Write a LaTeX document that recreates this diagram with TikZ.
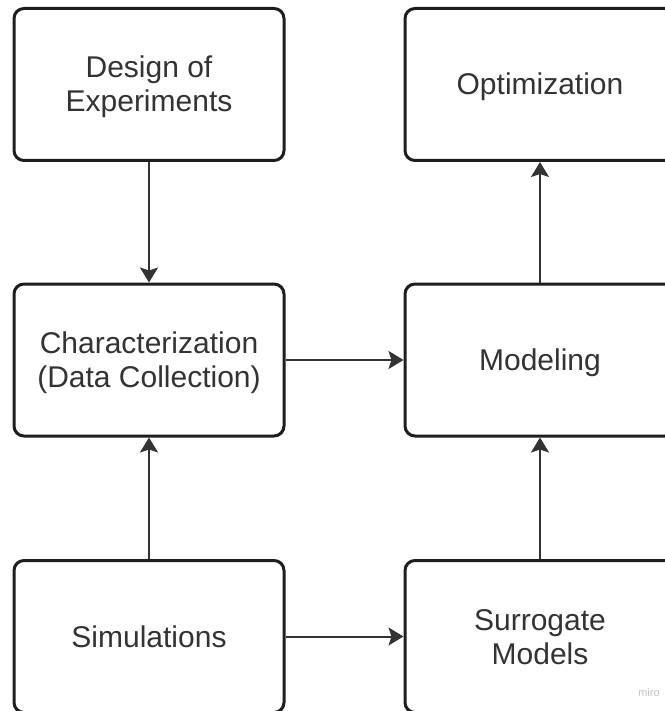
\documentclass[tikz,border=0pt]{standalone}
\usepackage{fontspec}
\setmainfont{Liberation Sans}
\usetikzlibrary{arrows.meta}

\definecolor{boxline}{HTML}{1E1E1E}
\definecolor{arrowline}{HTML}{333333}
\definecolor{labeltext}{HTML}{333333}
\definecolor{marktext}{HTML}{C4C4C4}

% line strut: fixed ascent 27.5pt and descent 6.5pt for every label line
\newcommand{\lnstrut}{\rule[-6.5pt]{0pt}{34pt}}

\begin{document}
\begin{tikzpicture}[x=1pt,y=-1pt,
  stage/.style={draw=boxline, line width=3pt, rounded corners=10pt,
    minimum width=270pt, minimum height=152pt, inner sep=0pt,
    align=center, text=labeltext, fill=white,
    font=\fontsize{30}{34}\selectfont},
  flow/.style={draw=arrowline, line width=2pt,
    -{Stealth[length=15pt,width=18pt,inset=3pt]}}]

  % page frame
  \useasboundingbox (0,0) rectangle (664,711);

  % left column
  \node[stage] (doe)  at (149,84.5)  {Design of\lnstrut\\Experiments\lnstrut};
  \node[stage] (char) at (149,360)   {Characterization\lnstrut\\(Data Collection)\lnstrut};
  \node[stage] (sim)  at (149,636.5) {Simulations\lnstrut};

  % right column
  \node[stage] (opt)  at (540,84.5)  {Optimization\lnstrut};
  \node[stage] (mod)  at (540,360)   {Modeling\lnstrut};
  \node[stage] (sur)  at (540,636.5) {Surrogate\lnstrut\\Models\lnstrut};

  % connectors
  \draw[flow] (doe.south) -- (char.north);
  \draw[flow] (sim.north) -- (char.south);
  \draw[flow] (char.east) -- (mod.west);
  \draw[flow] (sim.east)  -- (sur.west);
  \draw[flow] (sur.north) -- (mod.south);
  \draw[flow] (mod.north) -- (opt.south);

  % watermark
  \node[text=marktext, font=\fontsize{11}{12}\selectfont, inner sep=0pt] (mark) at (649,693) {miro};
\end{tikzpicture}
\end{document}
